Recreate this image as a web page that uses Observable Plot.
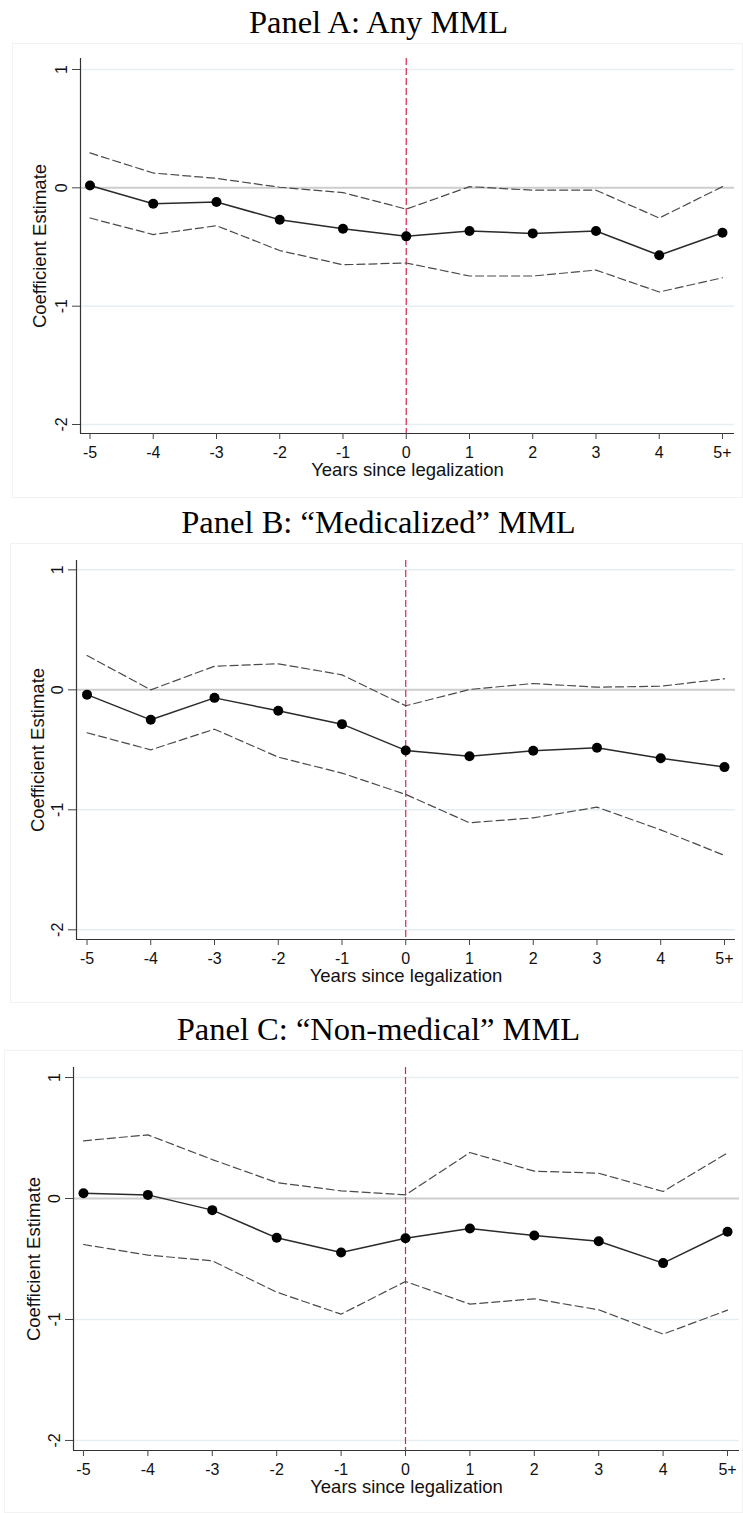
<!DOCTYPE html>
<html><head><meta charset="utf-8">
<script src="https://cdn.jsdelivr.net/npm/d3@7"></script>
<script src="https://cdn.jsdelivr.net/npm/@observablehq/plot@0.6"></script>
<style>
body{margin:0;background:#fff;width:743px;height:1513px;position:relative;overflow:hidden}
.title{position:absolute;left:7px;width:743px;text-align:center;font-family:"Liberation Serif","Times New Roman",serif;font-size:32.5px;line-height:36px;color:#000;white-space:nowrap}
.panel{position:absolute;left:0}
.box{position:absolute;border:1px solid #f2f2f2;box-sizing:border-box}
</style></head><body>
<script>
// ---- data ----
const years = [-5, -4, -3, -2, -1, 0, 1, 2, 3, 4, 5];
const yearLabels = ["-5", "-4", "-3", "-2", "-1", "0", "1", "2", "3", "4", "5+"];
const yTicks = [-2, -1, 0, 1];
const gridValues = [-2, -1, 1];
const titles = ["Panel A: Any MML", "Panel B: \u201cMedicalized\u201d MML", "Panel C: \u201cNon-medical\u201d MML"];
const xTitle = "Years since legalization";
const yTitle = "Coefficient Estimate";

const estA = [0.02, -0.135, -0.12, -0.27, -0.345, -0.41, -0.365, -0.385, -0.365, -0.57, -0.38];
const upA  = [0.295, 0.125, 0.08, 0.005, -0.04, -0.18, 0.01, -0.02, -0.02, -0.255, 0.01];
const loA  = [-0.255, -0.395, -0.32, -0.53, -0.65, -0.635, -0.745, -0.745, -0.695, -0.88, -0.76];

const estB = [-0.04, -0.25, -0.067, -0.175, -0.286, -0.505, -0.553, -0.508, -0.483, -0.57, -0.644];
const upB  = [0.286, 0.0, 0.197, 0.217, 0.125, -0.133, 0.003, 0.053, 0.022, 0.03, 0.092];
const loB  = [-0.358, -0.5, -0.328, -0.561, -0.694, -0.872, -1.108, -1.067, -0.978, -1.167, -1.38];

const estC = [0.044, 0.03, -0.096, -0.325, -0.446, -0.328, -0.248, -0.306, -0.353, -0.534, -0.275];
const upC  = [0.477, 0.526, 0.322, 0.132, 0.063, 0.03, 0.38, 0.226, 0.209, 0.058, 0.377];
const loC  = [-0.38, -0.468, -0.515, -0.774, -0.956, -0.686, -0.873, -0.829, -0.92, -1.121, -0.923];

// ---- layout ----
const layouts = [
  {titleTop: 4, box: [12, 43, 731, 455], top: 45, height: 445, mt: 13, mb: 57, ml: 80, mr: 9,
   xd: [-5.15, 5.19], yd: [-2.076, 1.093], ylabDx: -40},
  {titleTop: 504, box: [10, 543, 733, 460], top: 545, height: 445, mt: 15, mb: 51, ml: 76, mr: 8,
   xd: [-5.165, 5.173], yd: [-2.081, 1.078], ylabDx: -38},
  {titleTop: 1011, box: [4, 1050, 739, 463], top: 1050, height: 463, mt: 17, mb: 63, ml: 73, mr: 4,
   xd: [-5.155, 5.186], yd: [-2.083, 1.083], ylabDx: -39}
];
const series = [[estA, upA, loA], [estB, upB, loB], [estC, upC, loC]];

const FONT = "'Liberation Sans', Arial, sans-serif";

function makePanel(L, est, up, lo) {
  const rows = years.map((x, i) => ({x, est: est[i], up: up[i], lo: lo[i]}));
  return Plot.plot({
    width: 743, height: L.height,
    marginTop: L.mt, marginBottom: L.mb, marginLeft: L.ml, marginRight: L.mr,
    style: {fontFamily: FONT, fontSize: "16px", color: "#222", background: "transparent", overflow: "visible"},
    x: {domain: L.xd},
    y: {domain: L.yd},
    marks: [
      Plot.ruleY(gridValues, {stroke: "#e6eef1", strokeWidth: 1.5}),
      Plot.ruleY([0], {stroke: "#cdcdcd", strokeWidth: 2}),
      Plot.ruleX([0], {stroke: "#d8244f", strokeWidth: 1.2, strokeDasharray: "7,3"}),
      Plot.line(rows, {x: "x", y: "up", stroke: "#4a4a4a", strokeWidth: 1.2, strokeDasharray: "8,4"}),
      Plot.line(rows, {x: "x", y: "lo", stroke: "#4a4a4a", strokeWidth: 1.2, strokeDasharray: "8,4"}),
      Plot.line(rows, {x: "x", y: "est", stroke: "#2a2a2a", strokeWidth: 1.5}),
      Plot.dot(rows, {x: "x", y: "est", r: 5, fill: "#000", stroke: "none"}),
      Plot.ruleX([L.xd[0]], {stroke: "#333", strokeWidth: 1.2}),
      Plot.ruleY([L.yd[0]], {stroke: "#333", strokeWidth: 1.2}),
      Plot.axisX({ticks: years, tickFormat: d => yearLabels[years.indexOf(d)], tickSize: 6, tickPadding: 7,
        label: null, stroke: "#444", fill: "#111", fontSize: 16, fontFamily: FONT}),
      Plot.axisY({ticks: yTicks, tickFormat: d => String(d), tickSize: 8, tickPadding: 6, tickRotate: -90,
        label: null, stroke: "#444", fill: "#111", fontSize: 16, fontFamily: FONT}),
      Plot.text([xTitle], {frameAnchor: "bottom", dy: 42, fontSize: 18.5, fontFamily: FONT, fill: "#111", textAnchor: "middle"}),
      Plot.text([yTitle], {frameAnchor: "left", dx: L.ylabDx, rotate: -90, fontSize: 18.5, fontFamily: FONT, fill: "#111", textAnchor: "middle"})
    ]
  });
}

layouts.forEach((L, i) => {
  const box = document.createElement("div");
  box.className = "box";
  box.style.left = L.box[0] + "px"; box.style.top = L.box[1] + "px";
  box.style.width = L.box[2] + "px"; box.style.height = L.box[3] + "px";
  document.body.appendChild(box);
  const t = document.createElement("div");
  t.className = "title";
  t.style.top = L.titleTop + "px";
  t.textContent = titles[i];
  document.body.appendChild(t);
  const wrap = document.createElement("div");
  wrap.className = "panel";
  wrap.style.top = L.top + "px";
  wrap.appendChild(makePanel(L, ...series[i]));
  document.body.appendChild(wrap);
});
</script>
</body></html>
